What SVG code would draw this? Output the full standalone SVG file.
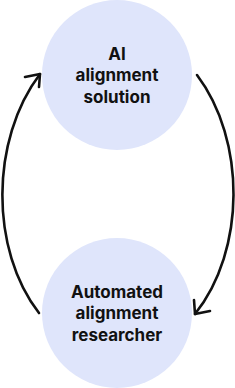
<svg xmlns="http://www.w3.org/2000/svg" width="235" height="388" viewBox="0 0 235 388">
<style>
.node{fill:#dfe5fb}
.lbl{font-family:Inter,"Liberation Sans",sans-serif;font-weight:700;font-size:17px;fill:#111;text-anchor:middle}
.edge{fill:none;stroke:#111;stroke-width:2.6;stroke-linecap:round;stroke-linejoin:round}
</style>
<rect width="235" height="388" fill="#fff"/>
<g id="solution">
<circle class="node" cx="117" cy="75" r="75"/>
<text class="lbl" x="117" y="60">AI</text>
<text class="lbl" x="117" y="81">alignment</text>
<text class="lbl" x="117" y="103">solution</text>
</g>
<g id="researcher">
<circle class="node" cx="117" cy="313" r="75"/>
<text class="lbl" x="117" y="298">Automated</text>
<text class="lbl" x="117" y="319">alignment</text>
<text class="lbl" x="117" y="341">researcher</text>
</g>
<g id="connectors">
<path class="edge" d="M197,75 C246,140 246,250 195,314"/>
<path class="edge" d="M210,311 L195,314 L194,300"/>
<path class="edge" d="M39,313 C-10,250 -10,140 40,74"/>
<path class="edge" d="M25,77 L40,74 L39,87"/>
</g>
</svg>
